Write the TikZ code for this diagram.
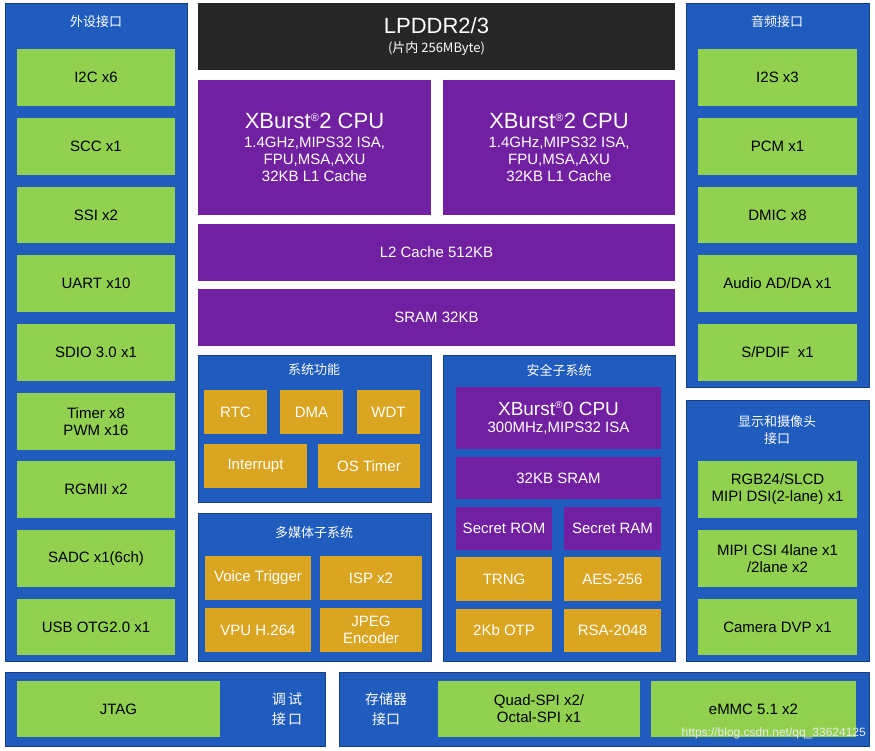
\documentclass[tikz,border=0pt]{standalone}
\usepackage{fontspec}
\setmainfont{Liberation Sans}
\newfontfamily\cjk{Noto Sans CJK SC}
\definecolor{pblue}{RGB}{31,92,190}
\definecolor{pgreen}{RGB}{146,208,80}
\definecolor{ppurple}{RGB}{112,32,160}
\definecolor{pdark}{RGB}{38,38,38}
\definecolor{pgold}{RGB}{218,165,32}
\newcommand\bx[7]{\node[#1,minimum width={(#5-#3)*1pt},minimum height={(#6-#4)*1pt}] (#2) at ({(#3+#5)/2},{(#4+#6)/2}) {#7};}
\begin{document}
\begin{tikzpicture}[x=1pt,y=-1pt,
 base/.style={inner sep=0pt,outer sep=0pt,align=center,font=\fontsize{15}{17}\selectfont},
 panel/.style={base,fill=pblue,draw=pblue!70!black,line width=0.6pt},
 gbox/.style={base,fill=pgreen,text=black},
 pbox/.style={base,fill=ppurple,text=white},
 obox/.style={base,fill=pgold,text=white},
 dbox/.style={base,fill=pdark,text=white},
 ttl/.style={text=white,font=\cjk\fontsize{13}{17}\selectfont,align=center,inner sep=0pt}]
\useasboundingbox (0,0) rectangle (875,751);
\fill[white] (0,0) rectangle (875,751);
% panels
\bx{panel}{pl}{5}{3}{187}{661}{}
\bx{panel}{pa}{686}{3}{869}{387}{}
\bx{panel}{pd}{686}{400}{869}{661}{}
\bx{panel}{ps}{198}{355}{431}{502}{}
\bx{panel}{pm}{198}{513}{431}{661}{}
\bx{panel}{pc}{443}{355}{675}{661}{}
\bx{panel}{pt}{5}{672}{325}{746}{}
\bx{panel}{pst}{339}{672}{869}{746}{}
\node[ttl] at (96,22) {外设接口};
\node[ttl] at (777,22) {音频接口};
\node[ttl] at (777,430) {显示和摄像头\\接口};
\node[ttl] at (314,370) {系统功能};
\node[ttl] at (314,533) {多媒体子系统};
\node[ttl] at (559,370) {安全子系统};
\node[ttl,font=\cjk\fontsize{14}{20}\selectfont] at (287,709) {调\,试\\接\,口};
\node[ttl,font=\cjk\fontsize{14}{20}\selectfont] at (386,709) {存储器\\接口};
% left
\bx{gbox}{a1}{17}{49}{175}{106}{I2C x6}
\bx{gbox}{a2}{17}{118}{175}{175}{SCC x1}
\bx{gbox}{a3}{17}{187}{175}{243}{SSI x2}
\bx{gbox}{a4}{17}{255}{175}{312}{UART x10}
\bx{gbox}{a5}{17}{324}{175}{381}{SDIO 3.0 x1}
\bx{gbox}{a6}{17}{393}{175}{450}{Timer x8\\PWM x16}
\bx{gbox}{a7}{17}{461}{175}{518}{RGMII x2}
\bx{gbox}{a8}{17}{530}{175}{587}{SADC x1(6ch)}
\bx{gbox}{a9}{17}{599}{175}{655}{USB OTG2.0 x1}
% top
\bx{dbox}{ddr}{198}{3}{675}{70}{{\fontsize{22}{24}\selectfont LPDDR2/3}\\[2pt]{\cjk\fontsize{13}{15}\selectfont (片内 256MByte)}}
\bx{pbox}{c1}{198}{80}{431}{215}{{\fontsize{22}{26}\selectfont XBurst\textsuperscript{\fontsize{11}{11}\selectfont\textregistered}2 CPU}\\[2pt]1.4GHz,MIPS32 ISA,\\FPU,MSA,AXU\\32KB L1 Cache}
\bx{pbox}{c2}{443}{80}{675}{215}{{\fontsize{22}{26}\selectfont XBurst\textsuperscript{\fontsize{11}{11}\selectfont\textregistered}2 CPU}\\[2pt]1.4GHz,MIPS32 ISA,\\FPU,MSA,AXU\\32KB L1 Cache}
\bx{pbox}{l2}{198}{224}{675}{281}{L2 Cache 512KB}
\bx{pbox}{sr}{198}{289}{675}{346}{SRAM 32KB}
% system
\bx{obox}{rtc}{204}{390}{267}{434}{RTC}
\bx{obox}{dma}{280}{390}{343}{434}{DMA}
\bx{obox}{wdt}{357}{390}{420}{434}{WDT}
\bx{obox}{int}{204}{444}{307}{488}{Interrupt}
\bx{obox}{ost}{318}{444}{420}{488}{OS Timer}
% multimedia
\bx{obox}{vt}{205}{556}{311}{600}{Voice Trigger}
\bx{obox}{isp}{320}{556}{422}{600}{ISP x2}
\bx{obox}{vpu}{205}{608}{311}{652}{VPU H.264}
\bx{obox}{jpg}{320}{608}{422}{652}{JPEG\\Encoder}
% security
\bx{pbox}{c0}{456}{387}{661}{449}{{\fontsize{19}{22}\selectfont XBurst\textsuperscript{\fontsize{10}{10}\selectfont\textregistered}0 CPU}\\300MHz,MIPS32 ISA}
\bx{pbox}{ss}{456}{457}{661}{499}{32KB SRAM}
\bx{pbox}{rom}{456}{507}{552}{550}{Secret ROM}
\bx{pbox}{ram}{564}{507}{661}{550}{Secret RAM}
\bx{obox}{trng}{456}{557}{552}{601}{TRNG}
\bx{obox}{aes}{564}{557}{661}{601}{AES-256}
\bx{obox}{otp}{456}{609}{552}{652}{2Kb OTP}
\bx{obox}{rsa}{564}{609}{661}{652}{RSA-2048}
% audio
\bx{gbox}{b1}{698}{49}{857}{106}{I2S x3}
\bx{gbox}{b2}{698}{118}{857}{175}{PCM x1}
\bx{gbox}{b3}{698}{187}{857}{243}{DMIC x8}
\bx{gbox}{b4}{698}{255}{857}{312}{Audio AD/DA x1}
\bx{gbox}{b5}{698}{324}{857}{381}{S/PDIF \ x1}
% display
\bx{gbox}{d1}{698}{461}{857}{518}{RGB24/SLCD\\MIPI DSI(2-lane) x1}
\bx{gbox}{d2}{698}{530}{857}{587}{MIPI CSI 4lane x1\\/2lane x2}
\bx{gbox}{d3}{698}{599}{857}{655}{Camera DVP x1}
% bottom
\bx{gbox}{jt}{17}{681}{220}{737}{JTAG}
\bx{gbox}{qs}{438}{681}{640}{737}{Quad-SPI x2/\\Octal-SPI x1}
\bx{gbox}{em}{651}{681}{856}{737}{eMMC 5.1 x2}
\node[anchor=east,text=white!85!gray,font=\fontsize{12}{12}\selectfont,inner sep=0pt] (wm) at (866,733) {https://blog.csdn.net/qq\_33624125};
\end{tikzpicture}
\end{document}
